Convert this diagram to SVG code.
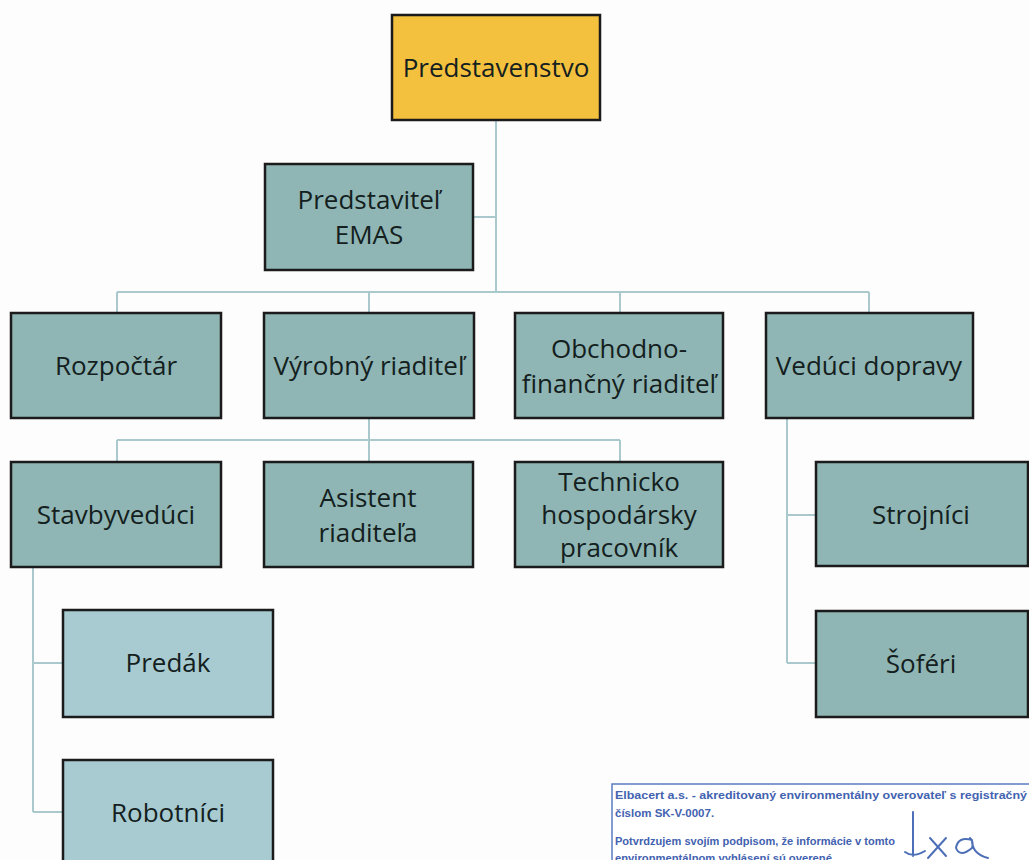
<svg xmlns="http://www.w3.org/2000/svg" width="1029" height="860" viewBox="0 0 1029 860">
<defs>
<style>
.box{stroke:#1b1b1b;stroke-width:2.5}
.teal{fill:#8fb6b4}
.light{fill:#a7cbd1}
.gold{fill:#f3c13e}
.lbl{font-family:"Open Sans","Noto Sans",sans-serif;font-size:26px;fill:#142020;text-anchor:middle}
.con{stroke:#a9c9cd;stroke-width:2;fill:none}
.stamp{font-family:"Liberation Sans",Arial,sans-serif;font-weight:bold;font-size:11.5px;fill:#4362b0}
</style>
</defs>
<rect x="0" y="0" width="1029" height="860" fill="#fdfdfd"/>
<g id="connectors">
<path class="con" d="M496 121V292M474 217H496M117 292H869M117 292V313M369 292V313M620 292V313M869 292V313"/>
<path class="con" d="M369 418V440M117 440H620M117 440V462M369 440V462M620 440V462"/>
<path class="con" d="M787 418V663M787 515H816M787 663H816"/>
<path class="con" d="M33 567V812M33 663H63M33 812H63"/>
</g>
<g id="predstavenstvo"><rect class="box gold" x="392" y="15" width="208" height="105"/><text class="lbl" x="496" y="77">Predstavenstvo</text></g>
<g id="emas"><rect class="box teal" x="265" y="164" width="208" height="106"/><text class="lbl" x="369" y="209">Predstaviteľ</text><text class="lbl" x="369" y="244">EMAS</text></g>
<g id="rozpoctar"><rect class="box teal" x="11" y="313" width="210" height="105"/><text class="lbl" x="116" y="375">Rozpočtár</text></g>
<g id="vyrobny"><rect class="box teal" x="264" y="313" width="210" height="105"/><text class="lbl" x="369" y="375">Výrobný riaditeľ</text></g>
<g id="obchodno"><rect class="box teal" x="515" y="313" width="208" height="105"/><text class="lbl" x="619" y="358">Obchodno-</text><text class="lbl" x="619" y="393">finančný riaditeľ</text></g>
<g id="veduci"><rect class="box teal" x="766" y="313" width="207" height="105"/><text class="lbl" x="869" y="375">Vedúci dopravy</text></g>
<g id="stavbyveduci"><rect class="box teal" x="11" y="462" width="210" height="105"/><text class="lbl" x="116" y="524">Stavbyvedúci</text></g>
<g id="asistent"><rect class="box teal" x="264" y="462" width="209" height="105"/><text class="lbl" x="368" y="507">Asistent</text><text class="lbl" x="368" y="542">riaditeľa</text></g>
<g id="technicko"><rect class="box teal" x="515" y="462" width="208" height="105"/><text class="lbl" x="619" y="491">Technicko</text><text class="lbl" x="619" y="524">hospodársky</text><text class="lbl" x="619" y="557">pracovník</text></g>
<g id="strojnici"><rect class="box teal" x="816" y="462" width="212" height="104"/><text class="lbl" x="921" y="524">Strojníci</text></g>
<g id="soferi"><rect class="box teal" x="816" y="611" width="212" height="106"/><text class="lbl" x="921" y="673">Šoféri</text></g>
<g id="predak"><rect class="box light" x="63" y="610" width="210" height="107"/><text class="lbl" x="168" y="672">Predák</text></g>
<g id="robotnici"><rect class="box light" x="63" y="760" width="210" height="106"/><text class="lbl" x="168" y="822">Robotníci</text></g>
<g id="stamp">
<rect x="612" y="784" width="430" height="90" fill="#ffffff" stroke="#5a7cc0" stroke-width="1.5"/>
<text class="stamp" x="615" y="799" textLength="412" lengthAdjust="spacingAndGlyphs">Elbacert a.s. - akreditovaný environmentálny overovateľ s registračný</text>
<text class="stamp" x="615" y="817">číslom SK-V-0007.</text>
<text class="stamp" x="615" y="845" textLength="280" lengthAdjust="spacingAndGlyphs">Potvrdzujem svojím podpisom, že informácie v tomto</text>
<text class="stamp" x="615" y="862" textLength="220" lengthAdjust="spacingAndGlyphs">environmentálnom vyhlásení sú overené.</text>
<path d="M913 812V856M905 852Q913 858 925 851M930 838L946 856M946 838L928 858M972 840Q958 836 956 848Q960 858 972 848Q974 842 970 838M972 840Q972 854 988 858" fill="none" stroke="#4d6fb8" stroke-width="2" stroke-linecap="round"/>
</g>
</svg>
